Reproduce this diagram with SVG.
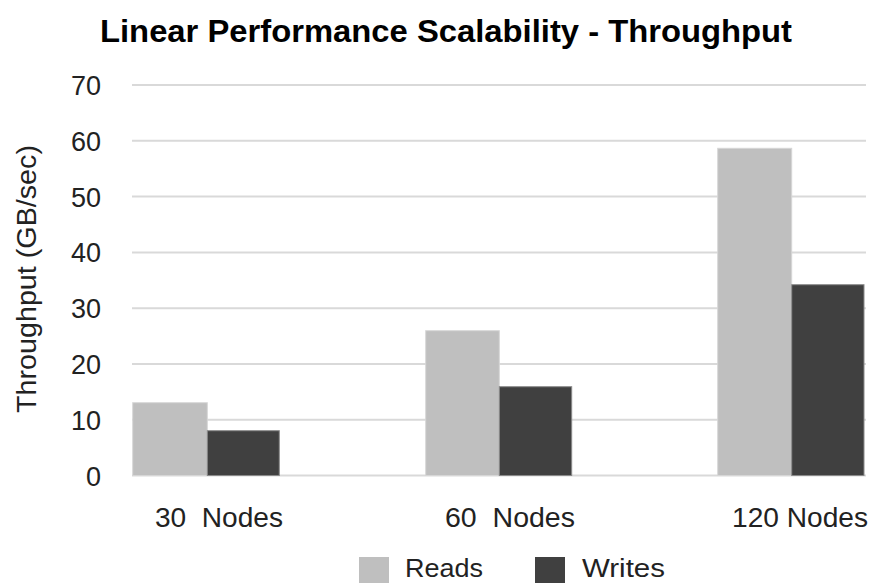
<svg xmlns="http://www.w3.org/2000/svg" width="873" height="583" viewBox="0 0 873 583">
<style>
.t{font-family:"Liberation Sans",Arial,sans-serif;fill:#222}
.title{font-size:31px;font-weight:bold;fill:#000}
.tick{font-size:27px;text-anchor:end}
.cat{font-size:27px}
.leg{font-size:26px}
.grid{stroke:#d9d9d9;stroke-width:2}
.reads{fill:#bfbfbf;stroke:#d6d6d6;stroke-width:1}
.writes{fill:#404040;stroke:#8a8a8a;stroke-width:1}
</style>
<rect width="873" height="583" fill="#fff"/>
<text id="title" class="t title" x="100" y="42" textLength="692" lengthAdjust="spacingAndGlyphs">Linear Performance Scalability - Throughput</text>
<g id="gridlines">
<line class="grid" x1="132" y1="85" x2="866" y2="85"/>
<line class="grid" x1="132" y1="140.8" x2="866" y2="140.8"/>
<line class="grid" x1="132" y1="196.6" x2="866" y2="196.6"/>
<line class="grid" x1="132" y1="252.4" x2="866" y2="252.4"/>
<line class="grid" x1="132" y1="308.3" x2="866" y2="308.3"/>
<line class="grid" x1="132" y1="364" x2="866" y2="364"/>
<line class="grid" x1="132" y1="419.7" x2="866" y2="419.7"/>
<line class="grid" x1="132" y1="475.5" x2="866" y2="475.5"/>
</g>
<g id="yaxis">
<text class="t tick" x="101" y="95">70</text>
<text class="t tick" x="101" y="150.8">60</text>
<text class="t tick" x="101" y="206.6">50</text>
<text class="t tick" x="101" y="262.4">40</text>
<text class="t tick" x="101" y="318.3">30</text>
<text class="t tick" x="101" y="374">20</text>
<text class="t tick" x="101" y="429.7">10</text>
<text class="t tick" x="101" y="485.5">0</text>
<text class="t" font-size="27" transform="translate(36,279) rotate(-90)" text-anchor="middle" textLength="268" lengthAdjust="spacingAndGlyphs">Throughput (GB/sec)</text>
</g>
<g id="bars">
<g id="n30">
<rect class="reads" x="132.7" y="402.7" width="74.6" height="72.8"/>
<rect class="writes" x="207.3" y="430.7" width="72" height="44.8"/>
</g>
<g id="n60">
<rect class="reads" x="425.7" y="330.7" width="73.6" height="144.8"/>
<rect class="writes" x="499.3" y="386.7" width="72.4" height="88.8"/>
</g>
<g id="n120">
<rect class="reads" x="717.7" y="148.3" width="74" height="327.2"/>
<rect class="writes" x="791.7" y="284.7" width="72.3" height="190.8"/>
</g>
</g>
<g id="xaxis">
<text class="t cat" x="155" y="527" textLength="128" lengthAdjust="spacingAndGlyphs" xml:space="preserve">30  Nodes</text>
<text class="t cat" x="445" y="527" textLength="130" lengthAdjust="spacingAndGlyphs" xml:space="preserve">60  Nodes</text>
<text class="t cat" x="732" y="527" textLength="136" lengthAdjust="spacingAndGlyphs">120 Nodes</text>
</g>
<g id="legend">
<rect x="359" y="557" width="30" height="30" fill="#bfbfbf"/>
<text class="t leg" x="405" y="577" textLength="78" lengthAdjust="spacingAndGlyphs">Reads</text>
<rect x="535" y="557" width="30" height="30" fill="#404040"/>
<text class="t leg" x="582" y="577" textLength="83" lengthAdjust="spacingAndGlyphs">Writes</text>
</g>
</svg>
